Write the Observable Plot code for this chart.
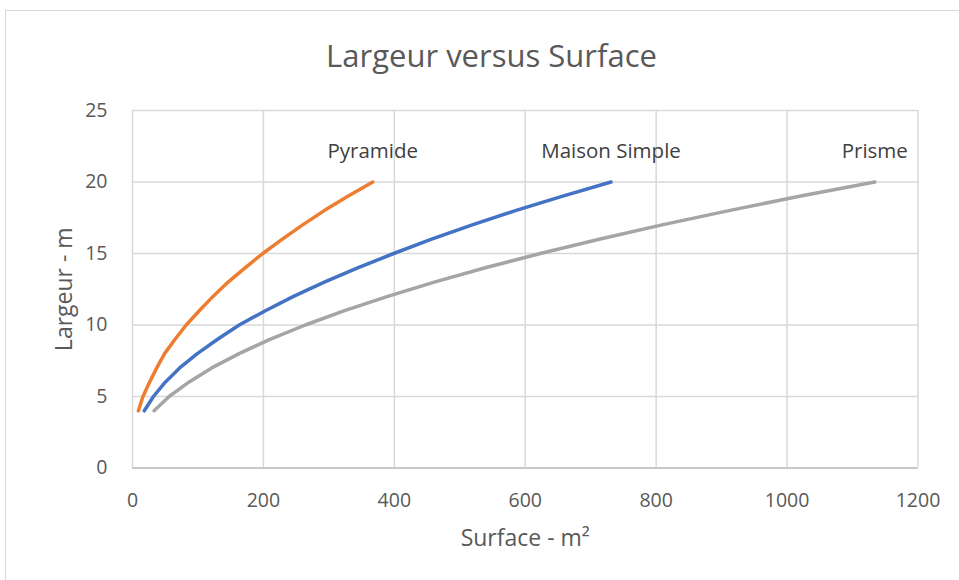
<!DOCTYPE html>
<html>
<head>
<meta charset="utf-8">
<script src="https://cdn.jsdelivr.net/npm/d3@7"></script>
<script src="https://cdn.jsdelivr.net/npm/@observablehq/plot@0.6"></script>
<style>
  html, body { margin: 0; padding: 0; background: #fff; }
  #wrap { position: relative; width: 959px; height: 580px; overflow: hidden; font-family: "Open Sans", sans-serif; }
  #frame { position: absolute; left: 5px; top: 10px; width: 1000px; height: 1000px; border: 1.5px solid #d9d9d9; box-sizing: border-box; }
  #title { position: absolute; left: 0; width: 983px; top: 34px; text-align: center; font-size: 31px; color: #595959; }
  #chart { position: absolute; left: 0; top: 0; }
</style>
</head>
<body>
<div id="wrap">
  <div id="frame"></div>
  <div id="chart"></div>
  <div id="title">Largeur versus Surface</div>
</div>
<script>
const largeur = [4, 5, 6, 7, 8, 9, 10, 11, 12, 13, 14, 15, 16, 17, 18, 19, 20];
const pyramide = [9, 16, 26, 37, 49, 65, 82, 102, 123, 146, 172, 199, 229, 260, 293, 329, 367];
const maisonSimple = [18, 32, 50, 72, 99, 130, 163, 203, 246, 293, 344, 399, 457, 519, 585, 656, 731];
const prisme = [33, 56, 86, 121, 163, 210, 264, 324, 390, 461, 539, 623, 713, 809, 911, 1019, 1134];
const seriesNames = ["Pyramide", "Maison Simple", "Prisme"];
const seriesColors = ["#ED7D31", "#4472C4", "#A5A5A5"];
const xTicks = [0, 200, 400, 600, 800, 1000, 1200];
const yTicks = [0, 5, 10, 15, 20, 25];

const seriesValues = [pyramide, maisonSimple, prisme];
const rows = [];
seriesNames.forEach((name, i) => {
  largeur.forEach((w, j) => rows.push({serie: name, surface: seriesValues[i][j], largeur: w}));
});
const ends = seriesNames.map((name, i) => ({serie: name, surface: seriesValues[i][largeur.length - 1], largeur: largeur[largeur.length - 1]}));

const chart = Plot.plot({
  width: 959,
  height: 580,
  marginLeft: 132,
  marginRight: 41.5,
  marginTop: 110,
  marginBottom: 112.5,
  style: {fontFamily: "Open Sans, sans-serif", background: "transparent"},
  x: {domain: [0, 1200], ticks: xTicks, label: null},
  y: {domain: [0, 25], ticks: yTicks, label: null},
  color: {domain: seriesNames, range: seriesColors},
  marks: [
    Plot.gridX(xTicks, {stroke: "#d9d9d9", strokeOpacity: 1, strokeWidth: 1.5}),
    Plot.gridY(yTicks, {stroke: "#d9d9d9", strokeOpacity: 1, strokeWidth: 1.5}),
    Plot.ruleY([0], {stroke: "#bfbfbf", strokeWidth: 1.5}),
    Plot.axisX({ticks: xTicks, tickSize: 0, tickPadding: 25, tickFormat: d => String(d), fontSize: 19.5, color: "#595959", label: null}),
    Plot.axisY({ticks: yTicks, tickSize: 0, tickPadding: 25, tickFormat: d => String(d), fontSize: 19.5, color: "#595959", label: null}),
    Plot.line(rows, {x: "surface", y: "largeur", z: "serie", stroke: "serie", strokeWidth: 3.5, strokeLinecap: "round", strokeLinejoin: "round"}),
    Plot.text(ends, {x: "surface", y: "largeur", text: "serie", dy: -31, fontSize: 20.5, fill: "#404040"}),
    Plot.text(["Surface - m²"], {frameAnchor: "bottom", dy: 78, fontSize: 23, fill: "#595959"}),
    Plot.text(["Largeur - m"], {frameAnchor: "left", textAnchor: "middle", dx: -68, rotate: -90, fontSize: 23, fill: "#595959"})
  ]
});
document.getElementById("chart").appendChild(chart);
</script>
</body>
</html>
